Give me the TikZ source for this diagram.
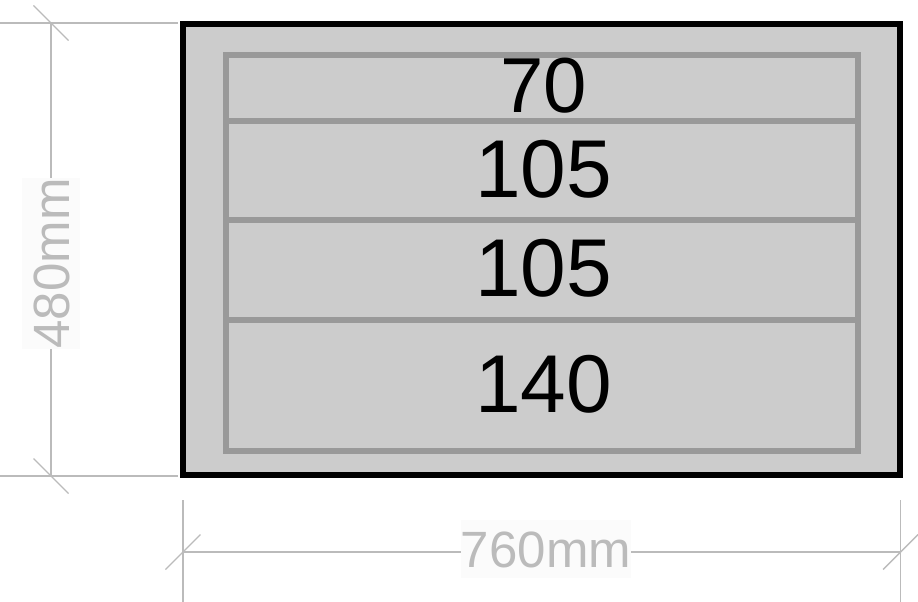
\documentclass[tikz,border=0pt]{standalone}
\usepackage{fontspec}
\setmainfont{Liberation Sans}
\usetikzlibrary{calc}
\definecolor{boxfill}{HTML}{CCCCCC}
\definecolor{rowline}{HTML}{999999}
\definecolor{dimgray}{HTML}{BBBBBB}
\definecolor{labelbg}{HTML}{FBFBFB}
\begin{document}
\begin{tikzpicture}[x=1pt,y=-1pt,
  outerbox/.style={draw=black,fill=boxfill,line width=6pt,minimum width=717pt,minimum height=451pt,inner sep=0pt},
  rowbox/.style={draw=rowline,fill=boxfill,line width=5.5pt,minimum width=632pt,inner sep=0pt},
  num/.style={font=\fontsize{82}{82}\selectfont,anchor=base,inner sep=0pt,text=black},
  dimline/.style={draw=dimgray,line width=1.4pt},
  dimlabel/.style={fill=labelbg,text=dimgray,font=\fontsize{51}{51}\selectfont,inner sep=0pt,text height=37pt,text depth=0pt,minimum height=58pt}]
\useasboundingbox (0,0) rectangle (918,602);
% outer box
\node[outerbox] (outer) at (541.5,249.5) {};
% rows
\node[rowbox,minimum height=66pt] (r1) at (542,88) {};
\node[rowbox,minimum height=99pt] (r2) at (542,170.5) {};
\node[rowbox,minimum height=100pt] (r3) at (542,270) {};
\node[rowbox,minimum height=131pt] (r4) at (542,385.5) {};
\node[num,font=\fontsize{78}{78}\selectfont] (t1) at (543.5,112) {70};
\node[num] (t2) at (543.5,197) {105};
\node[num] (t3) at (543.5,296) {105};
\node[num] (t4) at (543.5,412) {140};
% vertical dimension
\coordinate (vt) at (51,23);
\coordinate (vb) at (51,476);
\coordinate (vte) at (0,23);
\coordinate (vtf) at (178,23);
\coordinate (vbe) at (0,476);
\coordinate (vbf) at (178,476);
\draw[dimline] (vte) -- (vtf);
\draw[dimline] (vbe) -- (vbf);
\draw[dimline] (vt) -- (vb);
\draw[dimline] ($(vt)+(-17.5,-17.5)$) -- ($(vt)+(17.5,17.5)$);
\draw[dimline] ($(vb)+(-17.5,-17.5)$) -- ($(vb)+(17.5,17.5)$);
\node[dimlabel,rotate=90,minimum width=167pt] (l480) at (51,263.5) {480mm};
% horizontal dimension
\coordinate (hl) at (183,552);
\coordinate (hr) at (900.5,552);
\coordinate (hlt) at (183,500);
\coordinate (hlb) at (183,602);
\coordinate (hrt) at (900.5,500);
\coordinate (hrb) at (900.5,602);
\draw[dimline] (hlt) -- (hlb);
\draw[dimline] (hrt) -- (hrb);
\draw[dimline] (hl) -- (hr);
\draw[dimline] ($(hl)+(-17.5,17.5)$) -- ($(hl)+(17.5,-17.5)$);
\draw[dimline] ($(hr)+(-17.5,17.5)$) -- ($(hr)+(17.5,-17.5)$);
\node[dimlabel,minimum width=168pt] (l760) at (546,549) {760mm};
\end{tikzpicture}
\end{document}
